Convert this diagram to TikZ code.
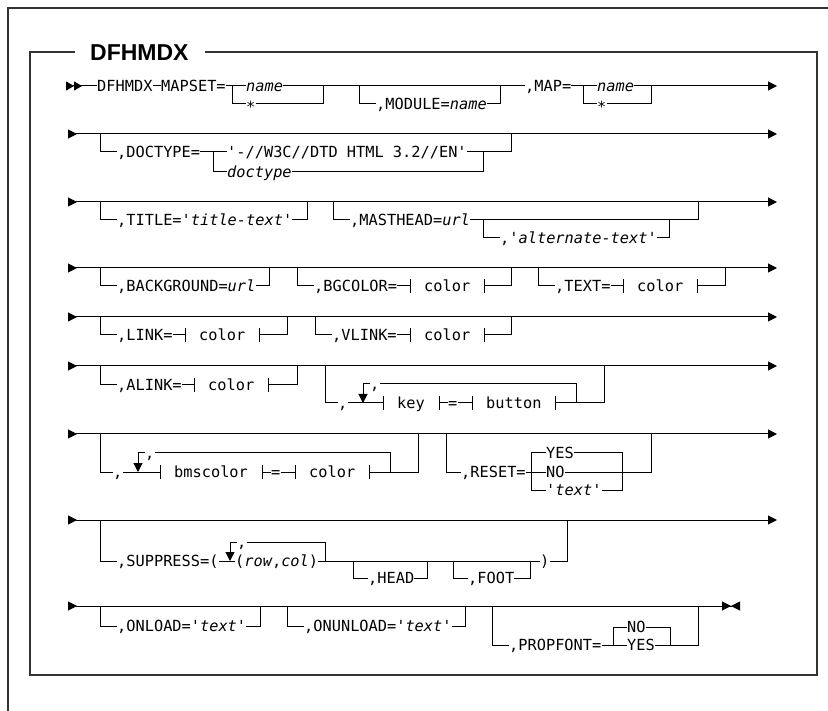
\documentclass[tikz,border=0pt]{standalone}
\usepackage{fontspec}
\setmainfont{Liberation Sans}
\setmonofont{DejaVu Sans Mono}
\usetikzlibrary{arrows.meta}
\newcommand{\sq}{\textquotesingle}

\begin{document}
\begin{tikzpicture}[x=1pt, y=-1pt, >={Triangle[length=9pt,width=9pt]},
  rail/.style={line width=1pt},
  outline/.style={line width=1.8pt, black!80},
  kw/.style={font=\ttfamily\fontsize{15.3pt}{18pt}\selectfont, inner sep=0pt, anchor=west, text height=11.15pt, text depth=0pt},
  starkw/.style={kw, text height=17.8pt},
  bar/.pic={\draw[rail] (0,-7) -- (0,7);}]
\useasboundingbox (0,0) rectangle (828,711);
\draw[outline] (8,711) -- (8,8) -- (828,8);
\node[anchor=west, inner sep=0pt, font=\bfseries\fontsize{23pt}{27pt}\selectfont, text height=16.5pt, text depth=0pt] (title) at (90,52) {DFHMDX};
\draw[outline] (75,52) -- (30,52) -- (30,675) -- (817,675) -- (817,52) -- (205,52);

\node[kw] (dfh) at (97,86) {DFHMDX};
\node[kw] (mapset) at (161,86) {MAPSET=};
\node[kw] (name1) at (246,86) {\textit{name}};
\node[starkw] (star1) at (246,104) {*};
\node[kw] (module) at (376,104) {,MODULE=\textit{name}};
\node[kw] (map) at (525,86) {,MAP=};
\node[kw] (name2) at (597,86) {\textit{name}};
\node[starkw] (star2) at (597,104) {*};
\draw[rail,{Triangle[reversed,length=8pt,width=9pt] Triangle[reversed,length=8pt,width=9pt]}-] (66,86) -- (dfh.west);
\draw[rail] (dfh.east) -- (mapset.west) (mapset.east) -- (name1.west) (name1.east) -- (map.west) (map.east) -- (name2.west);
\draw[rail,->] (name2.east) -- (777,86);
\draw[rail] (232,86) -- (232,104) -- (star1.west) (star1.east) -- (323,104) -- (323,86);
\draw[rail] (359,86) -- (359,104) -- (module.west) (module.east) -- (500,104) -- (500,86);
\draw[rail] (583,86) -- (583,104) -- (star2.west) (star2.east) -- (651,104) -- (651,86);

\draw[rail,{Triangle[reversed,length=9pt,width=9pt]}->] (68,134) -- (777,134);
\node[kw] (doctype) at (117,152) {,DOCTYPE=};
\node[kw] (dtd) at (227,152) {\sq-//W3C//DTD HTML 3.2//EN\sq};
\node[kw] (dtvar) at (227,172) {\textit{doctype}};
\draw[rail] (100,134) -- (100,152) -- (doctype.west) (doctype.east) -- (dtd.west) (dtd.east) -- (511,152) -- (511,134);
\draw[rail] (213,152) -- (213,172) -- (dtvar.west) (dtvar.east) -- (483,172) -- (483,152);

\draw[rail,{Triangle[reversed,length=9pt,width=9pt]}->] (68,202) -- (777,202);
\node[kw] (titlekw) at (117,220) {,TITLE=\sq\textit{title-text}\sq};
\node[kw] (masthead) at (350,220) {,MASTHEAD=\textit{url}};
\node[kw] (alttext) at (500,238) {,\sq\textit{alternate-text}\sq};
\draw[rail] (100,202) -- (100,220) -- (titlekw.west) (titlekw.east) -- (307,220) -- (307,202);
\draw[rail] (333,202) -- (333,220) -- (masthead.west) (masthead.east) -- (698,220) -- (698,202);
\draw[rail] (483,220) -- (483,238) -- (alttext.west) (alttext.east) -- (669,238) -- (669,220);

\draw[rail,{Triangle[reversed,length=9pt,width=9pt]}->] (68,268) -- (777,268);
\node[kw] (background) at (117,286) {,BACKGROUND=\textit{url}};
\node[kw] (bgcolor) at (314,286) {,BGCOLOR=};
\node[kw] (bgcol) at (424,286) {color};
\node[kw] (textkw) at (555,286) {,TEXT=};
\node[kw] (textcol) at (637,286) {color};
\draw[rail] (100,268) -- (100,286) -- (background.west) (background.east) -- (269,286) -- (269,268);
\draw[rail] (297,268) -- (297,286) -- (bgcolor.west) (bgcolor.east) -- (410,286);
\pic at (410,286) {bar}; \pic at (484,286) {bar};
\draw[rail] (484,286) -- (511,286) -- (511,268);
\draw[rail] (538,268) -- (538,286) -- (textkw.west) (textkw.east) -- (623,286);
\pic at (623,286) {bar}; \pic at (697,286) {bar};
\draw[rail] (697,286) -- (725,286) -- (725,268);

\draw[rail,{Triangle[reversed,length=9pt,width=9pt]}->] (68,317) -- (777,317);
\node[kw] (link) at (117,335) {,LINK=};
\node[kw] (linkcol) at (199,335) {color};
\node[kw] (vlink) at (332,335) {,VLINK=};
\node[kw] (vlinkcol) at (424,335) {color};
\draw[rail] (100,317) -- (100,335) -- (link.west) (link.east) -- (185,335);
\pic at (185,335) {bar}; \pic at (259,335) {bar};
\draw[rail] (259,335) -- (287,335) -- (287,317);
\draw[rail] (315,317) -- (315,335) -- (vlink.west) (vlink.east) -- (410,335);
\pic at (410,335) {bar}; \pic at (484,335) {bar};
\draw[rail] (484,335) -- (511,335) -- (511,317);

\draw[rail,{Triangle[reversed,length=9pt,width=9pt]}->] (68,366) -- (777,366);
\node[kw] (alink) at (117,385) {,ALINK=};
\node[kw] (alinkcol) at (208,385) {color};
\draw[rail] (100,366) -- (100,385) -- (alink.west) (alink.east) -- (194,385);
\pic at (194,385) {bar}; \pic at (268,385) {bar};
\draw[rail] (268,385) -- (297,385) -- (297,366);
\node[kw] (keycomma) at (338,403) {,};
\node[kw] (keysep) at (370,384) {,};
\node[kw] (key) at (397,403) {key};
\node[kw] (keyeq) at (448,403) {=};
\node[kw] (button) at (486,403) {button};
\draw[rail] (325,366) -- (325,403) -- (keycomma.west) (keycomma.east) -- (383,403);
\draw[rail] (keysep.west) -- (363,384) (keysep.east) -- (576,384) -- (576,403);
\draw[rail,->] (363,384) -- (363,403);
\pic at (383,403) {bar}; \pic at (439,403) {bar};
\draw[rail] (439,403) -- (keyeq.west) (keyeq.east) -- (472,403);
\pic at (472,403) {bar}; \pic at (555,403) {bar};
\draw[rail] (555,403) -- (604,403) -- (604,366);

\draw[rail,{Triangle[reversed,length=9pt,width=9pt]}->] (68,434) -- (777,434);
\node[kw] (bmcomma) at (113,472) {,};
\node[kw] (bmsep) at (145,453) {,};
\node[kw] (bmscolor) at (174,472) {bmscolor};
\node[kw] (bmeq) at (271,472) {=};
\node[kw] (bmcol) at (309,472) {color};
\draw[rail] (100,434) -- (100,472) -- (bmcomma.west) (bmcomma.east) -- (160,472);
\draw[rail] (bmsep.west) -- (138,453) (bmsep.east) -- (390,453) -- (390,472);
\draw[rail,->] (138,453) -- (138,472);
\pic at (160,472) {bar}; \pic at (262,472) {bar};
\draw[rail] (262,472) -- (bmeq.west) (bmeq.east) -- (295,472);
\pic at (295,472) {bar}; \pic at (369,472) {bar};
\draw[rail] (369,472) -- (418,472) -- (418,434);
\node[kw] (reset) at (461,472) {,RESET=};
\node[kw] (yes1) at (546,453) {YES};
\node[kw] (no1) at (546,472) {NO};
\node[kw] (rtext) at (546,490) {\sq\textit{text}\sq};
\draw[rail] (446,434) -- (446,472) -- (reset.west) (reset.east) -- (no1.west) (no1.east) -- (651,472) -- (651,434);
\draw[rail] (yes1.west) -- (531,453) -- (531,490) -- (rtext.west);
\draw[rail] (yes1.east) -- (622,453) -- (622,490) -- (rtext.east);

\draw[rail,{Triangle[reversed,length=9pt,width=9pt]}->] (68,520) -- (777,520);
\node[kw] (suppress) at (117,561) {,SUPPRESS=(};
\node[kw] (supsep) at (237,542) {,};
\node[kw] (rowcol) at (235,561) {(\textit{row},\textit{col})};
\node[kw] (head) at (368,578) {,HEAD};
\node[kw] (foot) at (468,578) {,FOOT};
\node[kw] (cparen) at (540,561) {)};
\draw[rail] (100,520) -- (100,561) -- (suppress.west) (suppress.east) -- (rowcol.west);
\draw[rail] (supsep.west) -- (230,542) (supsep.east) -- (325,542) -- (325,561);
\draw[rail,->] (230,542) -- (230,561);
\draw[rail] (rowcol.east) -- (cparen.west) (cparen.east) -- (567,561) -- (567,520);
\draw[rail] (353,561) -- (353,578) -- (head.west) (head.east) -- (427,578) -- (427,561);
\draw[rail] (453,561) -- (453,578) -- (foot.west) (foot.east) -- (530,578) -- (530,561);

\draw[rail,{Triangle[reversed,length=9pt,width=9pt]}-{Triangle[length=9pt,width=9pt] Triangle[reversed,length=9pt,width=9pt]}] (68,606) -- (740,606);
\node[kw] (onload) at (117,626) {,ONLOAD=\sq\textit{text}\sq};
\node[kw] (onunload) at (304,626) {,ONUNLOAD=\sq\textit{text}\sq};
\node[kw] (propfont) at (509,645) {,PROPFONT=};
\node[kw] (no2) at (627,627) {NO};
\node[kw] (yes2) at (627,645) {YES};
\draw[rail] (100,606) -- (100,626) -- (onload.west) (onload.east) -- (260,626) -- (260,606);
\draw[rail] (287,606) -- (287,626) -- (onunload.west) (onunload.east) -- (465,626) -- (465,606);
\draw[rail] (492,606) -- (492,645) -- (propfont.west) (propfont.east) -- (yes2.west) (yes2.east) -- (698,645) -- (698,606);
\draw[rail] (613,645) -- (613,627) -- (no2.west) (no2.east) -- (670,627) -- (670,645);
\end{tikzpicture}
\end{document}
